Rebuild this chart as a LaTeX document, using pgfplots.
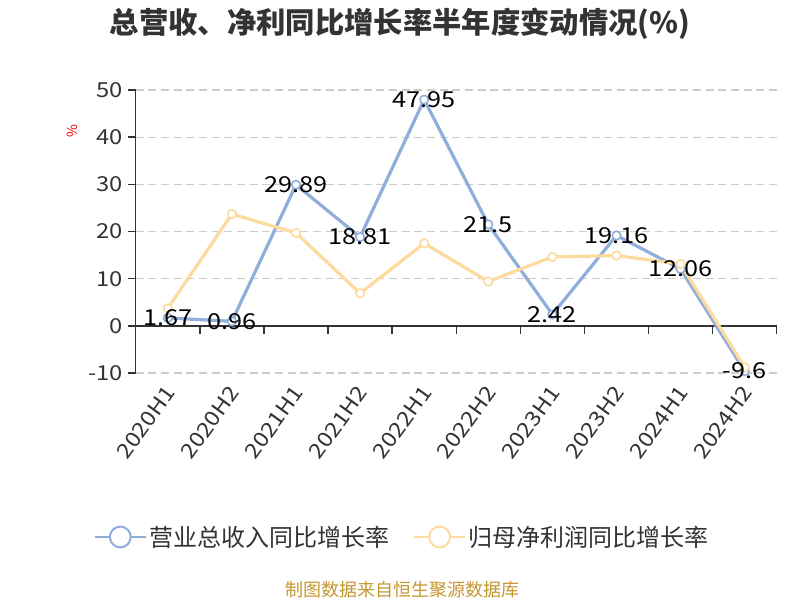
\documentclass[border=0pt]{standalone}
\usepackage{pgfplots}
\pgfplotsset{compat=1.18}
\usepackage{fontspec}
\setmainfont{Noto Sans CJK SC}
\newfontfamily\numfont[FakeStretch=1.15]{Noto Sans CJK SC}
\definecolor{revblue}{HTML}{8FAEDB}
\definecolor{profyel}{HTML}{FDDA9E}
\definecolor{txt}{HTML}{333333}
\definecolor{gridc}{HTML}{CCCCCC}
\definecolor{foot}{RGB}{196,150,48}
\begin{document}
\begin{tikzpicture}
\path[use as bounding box] (0,0) rectangle (600pt,450pt);
\node[font=\bfseries\fontsize{22}{24}\selectfont, text=txt] at (300pt,432pt) {总营收、净利同比增长率半年度变动情况(\%)};
\node[font=\fontsize{10.5}{12}\selectfont, text=red, rotate=90] at (54pt,352pt) {\%};
\node[font=\fontsize{13.5}{15}\selectfont, text=foot] at (302pt,7.5pt) {制图数据来自恒生聚源数据库};
\begin{axis}[
  at={(101.8pt,170.25pt)}, anchor=south west,
  scale only axis, width=480.75pt, height=212.25pt,
  xmin=0.5, xmax=10.5, ymin=-10, ymax=50,
  axis lines*=left,
  x axis line style={draw=none},
  y axis line style={draw=txt, line width=1.1pt},
  xtick={1,...,10},
  xticklabels={2020H1,2020H2,2021H1,2021H2,2022H1,2022H2,2023H1,2023H2,2024H1,2024H2},
  xtick style={draw=none},
  xticklabel style={rotate=54, anchor=east, yshift=-5pt, font=\numfont\fontsize{15.5}{16}\selectfont, text=txt},
  ytick={-10,0,10,20,30,40,50},
  yticklabels={-10,0,10,20,30,40,50},
  ytick style={draw=txt, line width=1.1pt},
  yticklabel style={font=\numfont\fontsize{15.5}{16}\selectfont, text=txt},
  tick align=outside, major tick length=6pt,
  ymajorgrids, grid style={gridc, line width=1pt, dash pattern=on 6pt off 3.5pt},
  clip=false,
  legend columns=2,
  legend style={at={(0.4164,-0.5795)}, anchor=center, draw=none, fill=none,
    font=\fontsize{18}{20}\selectfont, text=txt,
    /tikz/every even column/.append style={column sep=16pt}},
  legend image code/.code={
    \draw[#1, line width=1.5pt] (0pt,0pt) -- (38pt,0pt);
    \draw[#1, line width=1.5pt, fill=white] (19pt,0pt) circle (7.8pt);
  },
]
\draw[txt, line width=1.1pt] (axis cs:0.5,0) -- (axis cs:10.5,0);
\pgfplotsinvokeforeach{0.5,1.5,2.5,3.5,4.5,5.5,6.5,7.5,8.5,9.5,10.5}{
  \draw[txt, line width=1.1pt] (axis cs:#1,0) -- ([yshift=-6pt]axis cs:#1,0);
}
\addplot[revblue, line width=2.4pt, mark=*, mark size=3.2pt,
  mark options={fill=white, line width=1.2pt}] coordinates {
  (1,1.67) (2,0.96) (3,29.89) (4,18.81) (5,47.95)
  (6,21.5) (7,2.42) (8,19.16) (9,12.06) (10,-9.6)
};
\addlegendentry{营业总收入同比增长率}
\addplot[profyel, line width=2.4pt, mark=*, mark size=3.2pt,
  mark options={fill=white, line width=1.2pt}] coordinates {
  (1,3.7) (2,23.7) (3,19.7) (4,6.9) (5,17.5)
  (6,9.4) (7,14.6) (8,14.9) (9,13.1) (10,-8.8)
};
\addlegendentry{归母净利润同比增长率}
\addplot[draw=none, mark=none, forget plot,
  nodes near coords, point meta=explicit symbolic,
  nodes near coords style={anchor=center, font=\numfont\fontsize{16.5}{18}\selectfont, text=black, inner sep=0pt}]
  coordinates {
  (1,1.67)[1.67] (2,0.96)[0.96] (3,29.89)[29.89] (4,18.81)[18.81] (5,47.95)[47.95]
  (6,21.5)[21.5] (7,2.42)[2.42] (8,19.16)[19.16] (9,12.06)[12.06] (10,-9.6)[-9.6]
};
\end{axis}
\end{tikzpicture}
\end{document}
